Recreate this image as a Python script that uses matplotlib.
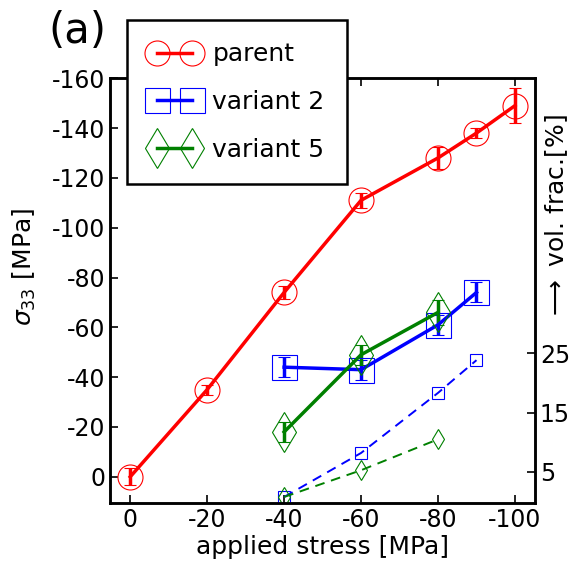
import numpy as np
import matplotlib.pyplot as plt
from matplotlib.lines import Line2D

# sigma_33 vs applied stress
x_parent = [0, -20, -40, -60, -80, -90, -100]
y_parent = [0, -35, -74, -111, -128, -138, -149]
e_parent = [3.5, 2, 2.5, 3, 4.5, 2, 7]

x_v2 = [-40, -60, -80, -90]
y_v2 = [-44, -43, -61, -74]
e_v2 = [4, 4, 4, 4]

x_v5 = [-40, -60, -80]
y_v5 = [-18, -49, -66]
e_v5 = [4, 4, 5]

# volume fractions (right axis)
vf_v2 = [0.8, 8.2, 18.3, 23.8]
vf_v5 = [0.8, 5.3, 10.5]

plt.rcParams['font.family'] = 'DejaVu Sans'
plt.rcParams['axes.unicode_minus'] = False
fig = plt.figure(figsize=(5.74, 5.67), dpi=100)
ax = fig.add_axes([0.192, 0.113, 0.740, 0.749])

styles = [('red', 'o', 18, 'parent'), ('blue', 's', 18, 'variant 2'), ('green', 'd', 20, 'variant 5')]
series = [(x_parent, y_parent, e_parent), (x_v2, y_v2, e_v2), (x_v5, y_v5, e_v5)]
handles = []
for (c, m, ms, lab), (xs, ys, es) in zip(styles, series):
    ax.errorbar(xs, ys, yerr=es, color=c, lw=2.5, elinewidth=2.5, capsize=4,
                marker=m, ms=ms, mfc='none', mec=c, mew=0.8)
    handles.append(Line2D([], [], color=c, lw=2.5, marker=m, ms=ms, mfc='none', mec=c, mew=0.8, label=lab))

ax.set_xlim(5.2, -105.2)
ax.set_ylim(10.5, -160)
ax.set_xticks([0, -20, -40, -60, -80, -100])
ax.set_yticks(np.arange(0, -161, -20))
ax.tick_params(labelsize=17, direction='in', length=6, width=1.2, top=True)
ax.yaxis.set_ticks_position('left')
for s in ax.spines.values():
    s.set_linewidth(1.8)
ax.set_xlabel('applied stress [MPa]', fontsize=18, labelpad=2)
ax.set_ylabel(r'$\sigma_{33}$ [MPa]', fontsize=18)
ax.yaxis.set_label_coords(-0.169, 0.555)

ax2 = ax.twinx()
ax2.plot(x_v2, vf_v2, color='blue', ls=(0, (5, 3.5)), lw=1.4, marker='s', ms=9, mfc='none', mec='blue', mew=0.8)
ax2.plot(x_v5, vf_v5, color='green', ls=(0, (5, 3.5)), lw=1.4, marker='d', ms=10, mfc='none', mec='green', mew=0.8)
ax2.set_ylim(-0.2, 71.2)
ax2.set_yticks([5, 15, 25])
ax2.tick_params(labelsize=17, direction='in', length=6, width=1.2)
for s in ax2.spines.values():
    s.set_linewidth(1.8)
ax2.text(1.052, 0.673, r'$\longrightarrow$ vol. frac.[%]', transform=ax.transAxes,
         rotation=90, fontsize=18, va='center', ha='center')

# legend on the twin so it sits above both sets of spines
leg = ax2.legend(handles=handles, loc='upper left', bbox_to_anchor=(0.222, 0.965), bbox_transform=fig.transFigure,
                 fontsize=18, numpoints=2, fancybox=False, edgecolor='black', framealpha=1,
                 handlelength=2.0, borderpad=0.9, labelspacing=0.95, handletextpad=0.5, borderaxespad=0)
leg.get_frame().set_linewidth(1.8)
leg.set_zorder(10)

fig.text(0.085, 0.925, '(a)', fontsize=30)

fig.savefig('out.png', dpi=100)
